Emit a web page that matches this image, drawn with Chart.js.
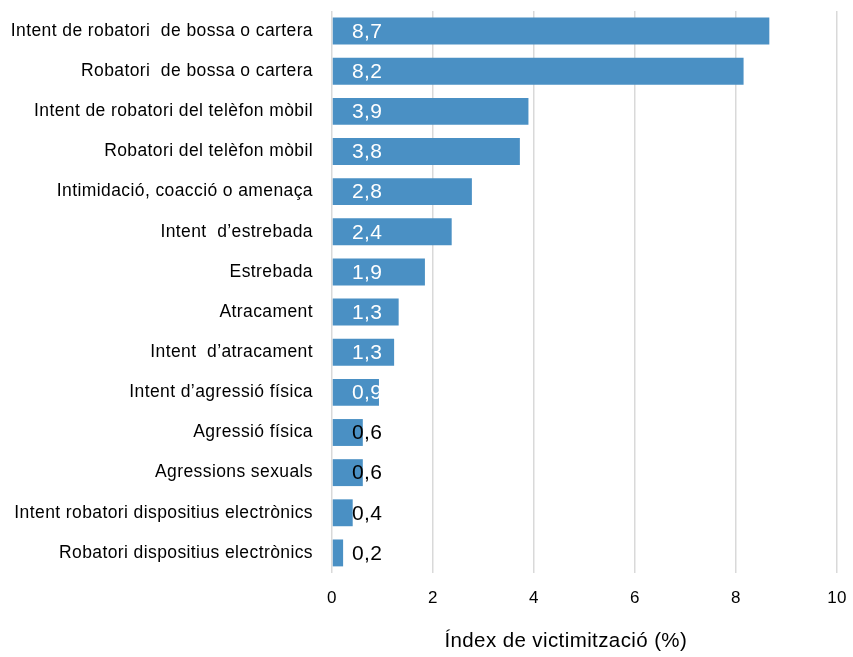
<!DOCTYPE html>
<html>
<head>
<meta charset="utf-8">
<script src="https://cdn.jsdelivr.net/npm/chart.js@4/dist/chart.umd.min.js"></script>
<style>
  html, body { margin: 0; padding: 0; background: #fff; }
</style>
</head>
<body>
<canvas id="chart" width="853" height="657"></canvas>
<script>
var categories = [
  'Intent de robatori  de bossa o cartera',
  'Robatori  de bossa o cartera',
  'Intent de robatori del telèfon mòbil',
  'Robatori del telèfon mòbil',
  'Intimidació, coacció o amenaça',
  'Intent  d’estrebada',
  'Estrebada',
  'Atracament',
  'Intent  d’atracament',
  'Intent d’agressió física',
  'Agressió física',
  'Agressions sexuals',
  'Intent robatori dispositius electrònics',
  'Robatori dispositius electrònics'
]
// bar lengths
var values = [8.66, 8.15, 3.89, 3.72, 2.77, 2.37, 1.84, 1.32, 1.23, 0.93, 0.61, 0.61, 0.41, 0.22]
// figures printed on the bars
var valueLabels = ['8,7', '8,2', '3,9', '3,8', '2,8', '2,4', '1,9', '1,3', '1,3', '0,9', '0,6', '0,6', '0,4', '0,2']
var xMin = 0
var xMax = 10
var xStep = 2
var axisTitle = 'Índex de victimització (%)'

var barColor = '#4a90c4'
var font = 'Arial, "Liberation Sans", sans-serif'

// draws the numbers on the bars and the x axis title
var labelPlugin = {
  id: 'labels',
  beforeDraw: function(chart){
    chart.ctx.letterSpacing = '0.4px'
  },
  afterDatasetsDraw: function(chart){
    var ctx = chart.ctx
    var xs = chart.scales.x
    var meta = chart.getDatasetMeta(0)
    ctx.save()
    ctx.font = '21px ' + font
    ctx.textAlign = 'left'
    ctx.textBaseline = 'middle'
    meta.data.forEach(function(bar, i){
      var shown = parseFloat(valueLabels[i].replace(',', '.'))
      ctx.fillStyle = shown >= 0.9 ? '#ffffff' : '#000000'
      ctx.fillText(valueLabels[i], xs.getPixelForValue(0) + 20, bar.y + 1)
    })
    ctx.font = '20.5px ' + font
    ctx.textAlign = 'center'
    ctx.fillStyle = '#000000'
    ctx.fillText(axisTitle, xs.getPixelForValue(4.63), 641)
    ctx.restore()
  }
}

var ctx = document.getElementById('chart').getContext('2d')
var chart = new Chart(ctx, {
  type: 'bar',
  data: {
    labels: categories,
    datasets: [{
      data: values,
      backgroundColor: barColor,
      borderWidth: 0,
      barPercentage: 0.67,
      categoryPercentage: 1
    }]
  },
  options: {
    indexAxis: 'y',
    responsive: false,
    animation: false,
    devicePixelRatio: 1,
    layout: { padding: { top: 11, right: 16, left: 0, bottom: 0 } },
    plugins: {
      legend: { display: false },
      tooltip: { enabled: false }
    },
    scales: {
      x: {
        min: xMin,
        max: xMax,
        ticks: { stepSize: xStep, color: '#000', font: { size: 17, family: font }, padding: 15 },
        grid: { color: '#d9d9d9', lineWidth: 1.5, drawTicks: false },
        border: { display: false },
        afterFit: function(scale){
          scale.height = 84
          scale.paddingLeft = 0
          scale.paddingRight = 0
        }
      },
      y: {
        ticks: { color: '#000', font: { size: 17.5, family: font }, padding: 19, autoSkip: false },
        grid: { display: false, drawTicks: false },
        border: { display: false },
        afterFit: function(scale){
          scale.width = 332
          scale.paddingTop = 0
          scale.paddingBottom = 0
        }
      }
    }
  },
  plugins: [labelPlugin]
})
</script>
</body>
</html>
